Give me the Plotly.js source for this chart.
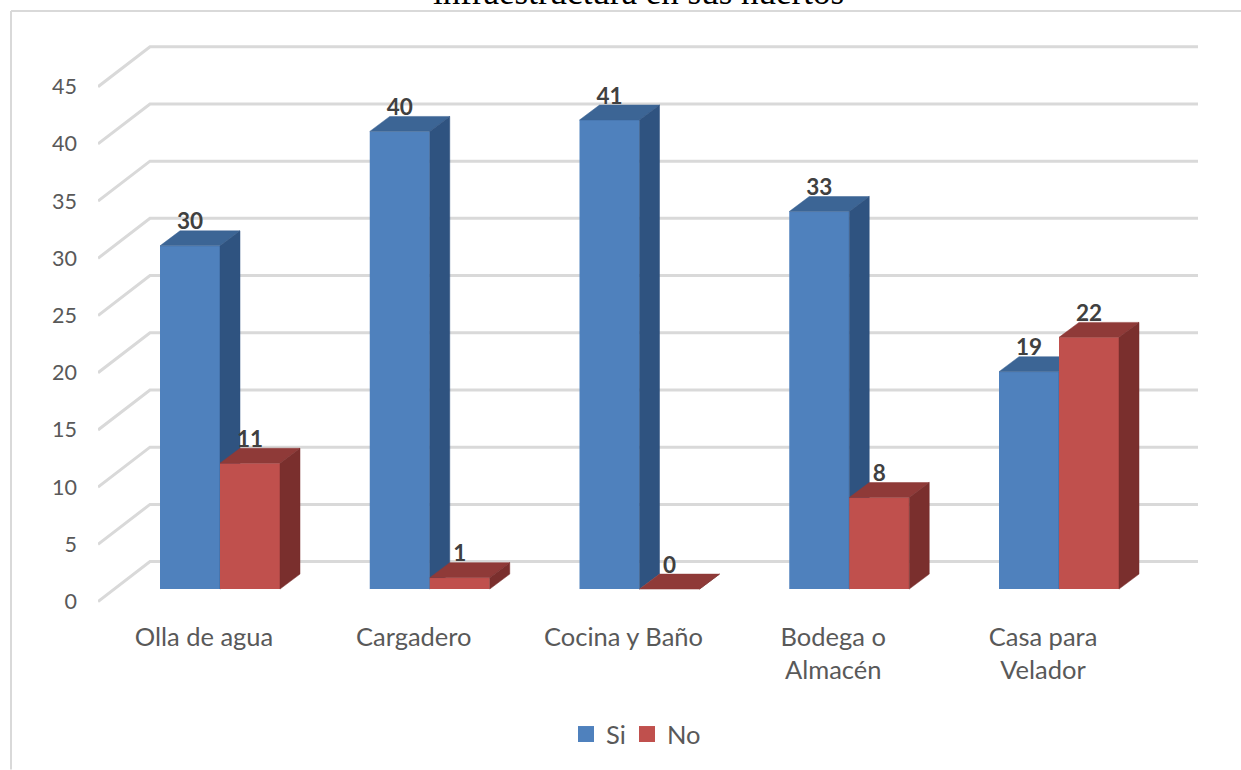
<!DOCTYPE html>
<html>
<head>
<meta charset="utf-8">
<script src="https://cdn.plot.ly/plotly-3.0.1.min.js"></script>
<style>html,body{margin:0;padding:0;background:#fff;overflow:hidden}</style>
</head>
<body>
<div id="chart" style="width:1241px;height:770px"></div>
<script>
var categories = ["Olla de agua", "Cargadero", "Cocina y Baño", "Bodega o<br>Almacén", "Casa para<br>Velador"];
var si = [30, 40, 41, 33, 19];
var no = [11, 1, 0, 8, 22];
var yTicks = [0, 5, 10, 15, 20, 25, 30, 35, 40, 45];
var titleText = "infraestructura en sus huertos";

var W = 1241, H = 770, L = 98, R = 1198, T = 40, B = 613.45;
var pxPerCat = 209.75, pxPerVal = 11.45, x0px = 220;
var xRange = [(L - x0px) / pxPerCat, (R - x0px) / pxPerCat];
var yRange = [(602 - B) / pxPerVal, (602 - T) / pxPerVal];
var barW = 60 / pxPerCat, depthX = 20 / pxPerCat, depthY = 15 / pxPerVal;
var baseV = 12.5 / pxPerVal, wallX = 52 / pxPerCat, wallY = 40 / pxPerVal;
var idx = categories.map(function (_, i) { return i; });

function wallLines() {
  var xs = [], ys = [];
  yTicks.forEach(function (t) {
    xs.push(xRange[0], xRange[0] + wallX, xRange[1], null);
    ys.push(t, t + wallY, t + wallY, null);
  });
  return { x: xs, y: ys };
}
function faces(vals, off, kind) {
  var xs = [], ys = [];
  vals.forEach(function (v, i) {
    var l = i + off - barW / 2, r = i + off + barW / 2, top = v + baseV;
    if (kind === 'top') {
      xs.push(l, l + depthX, r + depthX, r, l, null);
      ys.push(top, top + depthY, top + depthY, top, top, null);
    } else {
      xs.push(r, r + depthX, r + depthX, r, r, null);
      ys.push(baseV, baseV + depthY, top + depthY, top, baseV, null);
    }
  });
  return { x: xs, y: ys };
}
function poly(f, color, xa, ya) {
  return { type: 'scatter', mode: 'lines', x: f.x, y: f.y, fill: 'toself', fillcolor: color,
    line: { color: color, width: 0.5 }, hoverinfo: 'skip', showlegend: false, xaxis: xa, yaxis: ya, cliponaxis: false };
}
function front(vals, off, color, name, xa, ya) {
  return { type: 'bar', name: name, x: idx.map(function (i) { return i + off; }), y: vals,
    base: vals.map(function () { return baseV; }), width: barW,
    marker: { color: color, line: { width: 0 } }, showlegend: false, xaxis: xa, yaxis: ya };
}
function labels(vals, off, xa, ya) {
  return { type: 'scatter', mode: 'text', x: idx.map(function (i) { return i + off; }),
    y: vals.map(function (v) { return v + baseV + 22 / pxPerVal; }),
    text: vals.map(String), textposition: 'middle center',
    textfont: { family: 'Lato, Carlito, sans-serif', size: 22.5, color: '#404040', weight: 700 },
    showlegend: false, hoverinfo: 'skip', xaxis: xa, yaxis: ya, cliponaxis: false };
}
function legendEntry(name, color, legendId) {
  return { type: 'scatter', mode: 'markers', name: name, x: [null], y: [null], legend: legendId,
    marker: { symbol: 'square', size: 16, color: color, line: { width: 0 } } };
}
var off = barW / 2;
var wl = wallLines();
var traces = [
  { type: 'scatter', mode: 'lines', x: wl.x, y: wl.y, line: { color: '#d9d9d9', width: 3 },
    showlegend: false, hoverinfo: 'skip', cliponaxis: false },
  legendEntry('Si', '#4f81bd', 'legend'),
  legendEntry('No', '#c0504d', 'legend2'),
  front(si, -off, '#4f81bd', 'Si', 'x2', 'y2'),
  poly(faces(si, -off, 'top'), '#3c6595', 'x2', 'y2'),
  poly(faces(si, -off, 'side'), '#2f5380', 'x2', 'y2'),
  front(no, off, '#c0504d', 'No', 'x3', 'y3'),
  poly(faces(no, off, 'top'), '#8f3a38', 'x3', 'y3'),
  poly(faces(no, off, 'side'), '#7a2f2d', 'x3', 'y3'),
  labels(si, -off, 'x3', 'y3'),
  labels(no, off, 'x3', 'y3')
];
function px(x) { return (x - L) / (R - L); }
function py(y) { return (B - y) / (B - T); }
function legendAt(xp) {
  return { orientation: 'h', x: px(xp), y: py(735), xanchor: 'left', yanchor: 'middle',
    font: { size: 25.5, color: '#595959' }, bgcolor: 'rgba(0,0,0,0)', itemclick: false, itemdoubleclick: false };
}
var hiddenX = { range: xRange, overlaying: 'x', showticklabels: false, showgrid: false, zeroline: false, showline: false, ticks: '' };
var hiddenY = { range: yRange, overlaying: 'y', showticklabels: false, showgrid: false, zeroline: false, showline: false, ticks: '' };
var layout = {
  width: W, height: H, autosize: false,
  margin: { l: L, r: W - R, t: T, b: H - B, pad: 0 },
  paper_bgcolor: '#ffffff', plot_bgcolor: 'rgba(0,0,0,0)',
  font: { family: 'Lato, Carlito, sans-serif', color: '#595959', size: 23 },
  barmode: 'overlay',
  xaxis: { range: xRange, tickmode: 'array', tickvals: idx.map(function (i) { return i - 16 / pxPerCat; }), ticktext: categories,
    showgrid: false, zeroline: false, showline: false, ticks: '', tickangle: 0,
    ticklabelstandoff: 6, tickfont: { size: 25.5, color: '#595959' } },
  yaxis: { range: yRange, tickmode: 'array', tickvals: yTicks, ticktext: yTicks.map(String),
    showgrid: false, zeroline: false, showline: false, ticks: '',
    ticklabelstandoff: 20, tickfont: { size: 21.5, color: '#595959' } },
  xaxis2: hiddenX, yaxis2: hiddenY, xaxis3: hiddenX, yaxis3: hiddenY,
  showlegend: true,
  legend: legendAt(566),
  legend2: legendAt(627),
  shapes: [
    { type: 'line', xref: 'paper', yref: 'paper', x0: px(11), x1: px(11), y0: py(11), y1: py(770), line: { color: '#d9d9d9', width: 2 } },
    { type: 'line', xref: 'paper', yref: 'paper', x0: px(11), x1: px(1241), y0: py(11), y1: py(11), line: { color: '#d9d9d9', width: 2 } }
  ],
  annotations: [
    { text: titleText, xref: 'paper', yref: 'paper', x: px(638), y: py(14), xanchor: 'center', yanchor: 'bottom',
      showarrow: false, font: { family: 'Liberation Serif, serif', size: 35, color: '#000000' } }
  ]
};
Plotly.newPlot('chart', traces, layout, { displayModeBar: false, staticPlot: true });
</script>
</body>
</html>
